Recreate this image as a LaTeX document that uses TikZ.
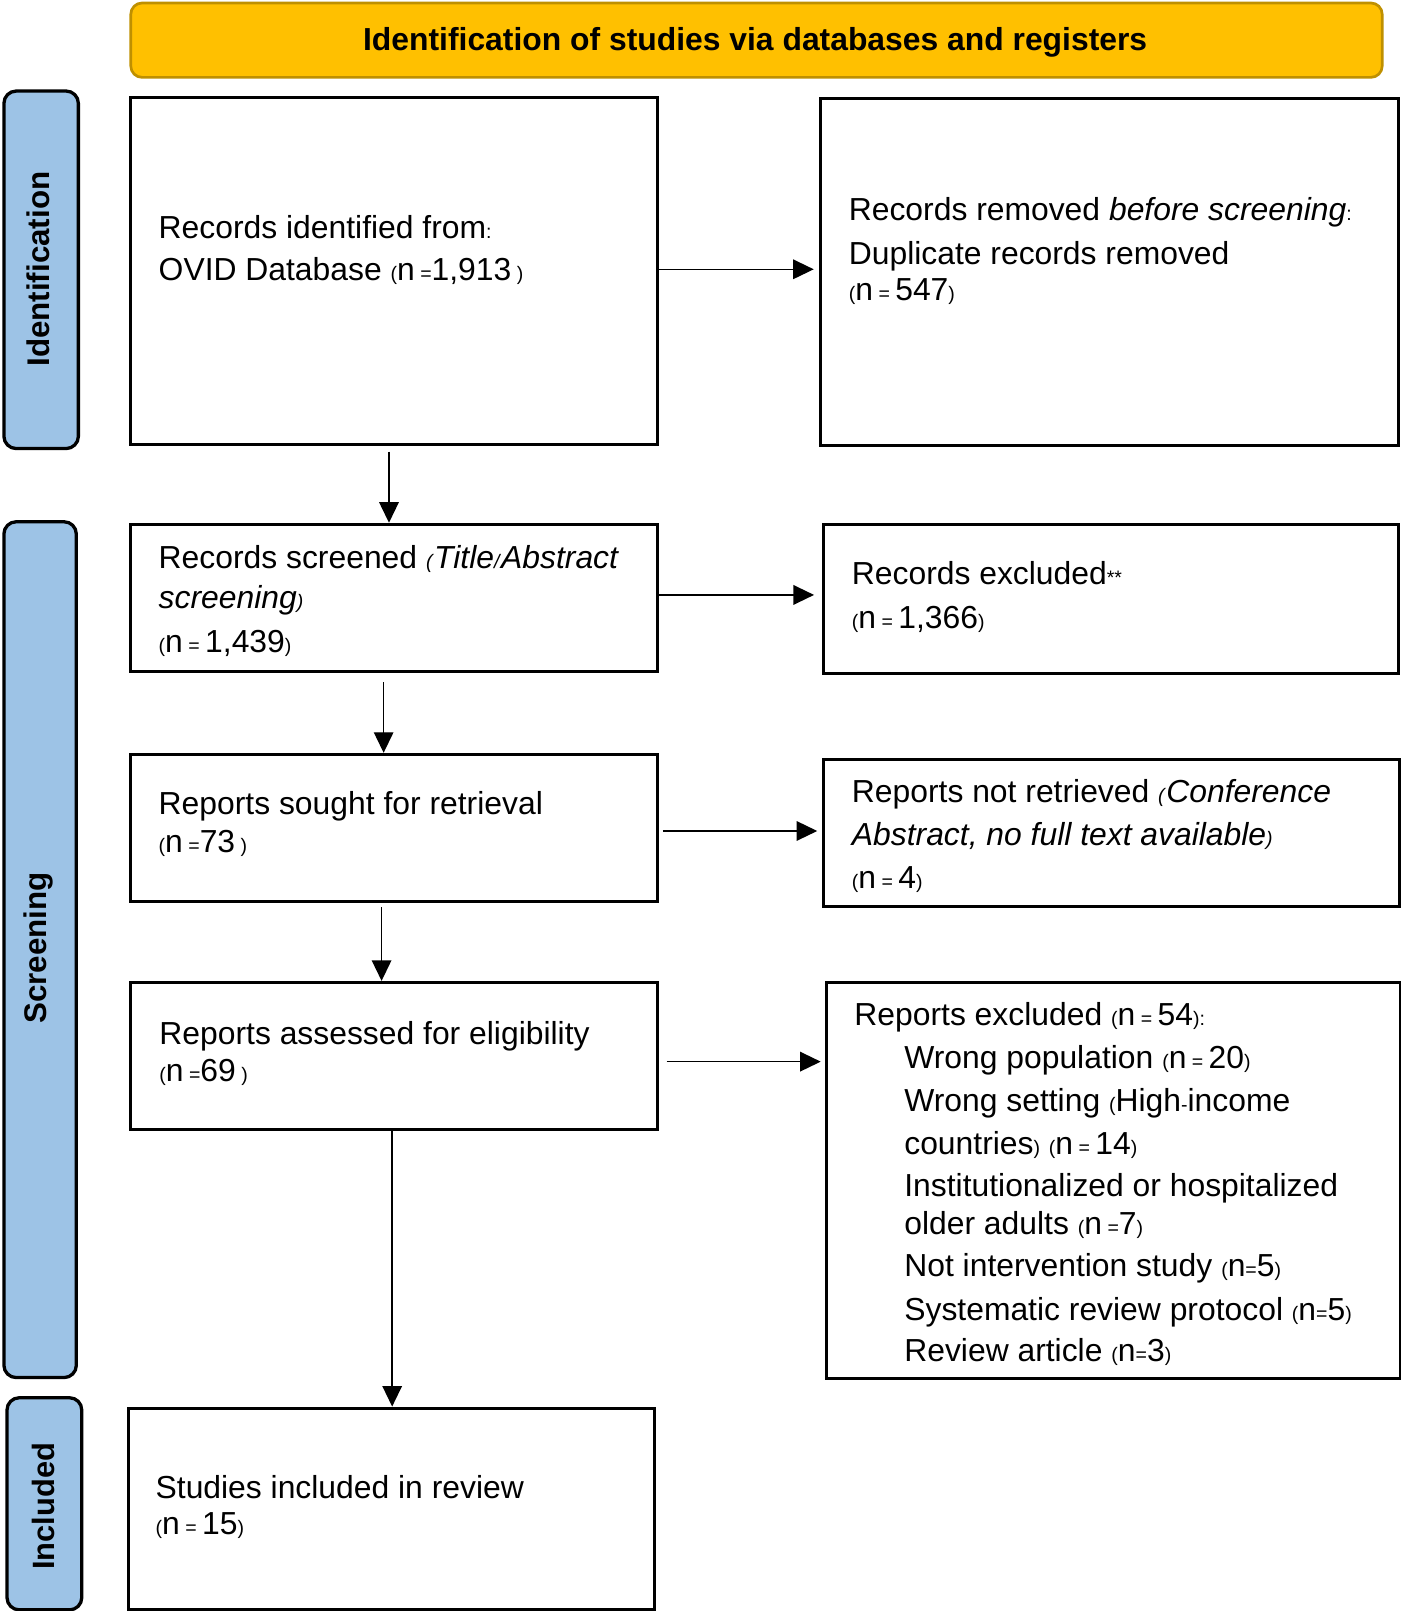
\documentclass[tikz,border=0pt]{standalone}
\usepackage{fontspec}
\setmainfont{Liberation Sans}
\usetikzlibrary{arrows.meta,calc}
\definecolor{hdrfill}{HTML}{FFC000}
\definecolor{hdrdraw}{HTML}{BF9000}
\definecolor{sidefill}{HTML}{9DC3E6}
\newcommand{\sm}[1]{{\fontsize{19}{19}\selectfont #1}}
\newcommand{\mainfs}{\fontsize{31}{37}\selectfont}
\begin{document}
\begin{tikzpicture}[x=1pt,y=-1pt,
  box/.style={draw=black,line width=2.9pt,fill=white,anchor=north west,inner sep=0pt},
  side/.style={draw=black,line width=3.2pt,fill=sidefill,rounded corners=12pt,anchor=north west,inner sep=0pt},
  hdr/.style={draw=hdrdraw,line width=2.6pt,fill=hdrfill,rounded corners=11pt,anchor=north west,inner sep=0pt},
  txt/.style={anchor=base west,inner sep=0pt,font=\mainfs},
  sidetxt/.style={inner sep=0pt,rotate=90,font=\bfseries},
  arr/.style={line width=1.4pt,-{Triangle[length=20pt,width=19pt]}}]
\useasboundingbox (0,0) rectangle (1363,1568);

% header
\node[hdr,minimum width=1218pt,minimum height=72.4pt] (hd) at (126,1.6) {};
\node[anchor=base,inner sep=0pt,font=\fontsize{31}{36}\selectfont\bfseries] (hdt) at (735,48.7) {Identification of studies via databases and registers};

% side labels
\node[side,minimum width=72.5pt,minimum height=348pt] (sid) at (2.2,87) {};
\node[sidetxt,font=\fontsize{30.5}{36}\selectfont\bfseries] (sidt) at (37.5,262) {Identification};
\node[side,minimum width=70.5pt,minimum height=833pt] (scr) at (2.2,506.2) {};
\node[sidetxt,font=\fontsize{30.5}{36}\selectfont\bfseries] (scrt) at (37.5,922.5) {Screening};
\node[side,minimum width=72.8pt,minimum height=206.5pt] (inc) at (5.2,1358.8) {};
\node[sidetxt,font=\fontsize{30}{36}\selectfont\bfseries] (inct) at (42.5,1466) {Included};

% boxes
\node[box,minimum width=512.9pt,minimum height=338.1pt] (b1) at (126,93.5) {};
\node[box,minimum width=561.9pt,minimum height=338.1pt] (b2) at (797.5,94.1) {};
\node[box,minimum width=512.9pt,minimum height=143.2pt] (b3) at (126,508.8) {};
\node[box,minimum width=559.7pt,minimum height=144.5pt] (b4) at (799.7,509.5) {};
\node[box,minimum width=512.9pt,minimum height=143.3pt] (b5) at (126,732.7) {};
\node[box,minimum width=561.3pt,minimum height=143.7pt] (b6) at (799.7,737.3) {};
\node[box,minimum width=512.9pt,minimum height=142.9pt] (b7) at (126,954.7) {};
\node[box,minimum width=558.6pt,minimum height=385.4pt] (b8) at (803,954.6) {};
\node[box,minimum width=512pt,minimum height=196.5pt] (b9) at (123.4,1369) {};

% texts
\node[txt] (t1a) at (154.3,232) {Records identified from\sm{:}};
\node[txt] (t1b) at (154.3,272.6) {OVID Database \sm{(}n\sm{ =}1,913\sm{ )}};

\node[txt] (t2a) at (826,214.8) {Records removed \textit{before screening}\sm{:}};
\node[txt] (t2b) at (826,257) {Duplicate records removed};
\node[txt] (t2c) at (826,292) {\sm{(}n\sm{ = }547\sm{)}};

\node[txt] (t3a) at (154.3,553) {Records screened \sm{\textit{(}}\textit{Title}\sm{\textit{/}}\textit{Abstract}};
\node[txt] (t3b) at (154.3,592) {\textit{screening}\sm{\textit{)}}};
\node[txt] (t3c) at (154.3,635) {\sm{(}n\sm{ = }1,439\sm{)}};

\node[txt] (t4a) at (829,568.5) {Records excluded\sm{**}};
\node[txt] (t4b) at (829,611.7) {\sm{(}n\sm{ = }1,366\sm{)}};

\node[txt] (t5a) at (154.3,793) {Reports sought for retrieval};
\node[txt] (t5b) at (154.3,830) {\sm{(}n\sm{ =}73\sm{ )}};

\node[txt] (t6a) at (829,781.4) {Reports not retrieved \sm{\textit{(}}\textit{Conference}};
\node[txt] (t6b) at (829,822.6) {\textit{Abstract, no full text available}\sm{\textit{)}}};
\node[txt] (t6c) at (829,864.8) {\sm{(}n\sm{ = }4\sm{)}};

\node[txt] (t7a) at (155,1017) {Reports assessed for eligibility};
\node[txt] (t7b) at (155,1052.6) {\sm{(}n\sm{ =}69\sm{ )}};

\node[txt] (t8a) at (831.4,998.4) {Reports excluded \sm{(}n\sm{ = }54\sm{):}};
\node[txt] (t8b) at (880,1040) {Wrong population \sm{(}n\sm{ = }20\sm{)}};
\node[txt] (t8c) at (880,1081.8) {Wrong setting \sm{(}High\sm{-}income};
\node[txt] (t8d) at (880,1123.4) {countries\sm{)} \sm{(}n\sm{ = }14\sm{)}};
\node[txt] (t8e) at (880,1165) {Institutionalized or hospitalized};
\node[txt] (t8f) at (880,1201.7) {older adults \sm{(}n\sm{ =}7\sm{)}};
\node[txt] (t8g) at (880,1242.1) {Not intervention study \sm{(}n\sm{=}5\sm{)}};
\node[txt] (t8h) at (880,1285) {Systematic review protocol \sm{(}n\sm{=}5\sm{)}};
\node[txt] (t8i) at (880,1325.4) {Review article \sm{(}n\sm{=}3\sm{)}};

\node[txt] (t9a) at (151.3,1458.7) {Studies included in review};
\node[txt] (t9b) at (151.3,1494) {\sm{(}n\sm{ = }15\sm{)}};

% horizontal arrows
\draw[arr,shorten >=5.5pt] ([yshift=1.9pt]b1.east) -- ([yshift=1.9pt]b1.east -| b2.west);
\draw[arr,shorten >=7.4pt] ([yshift=2.8pt]b3.east) -- ([yshift=2.8pt]b3.east -| b4.west);
\draw[arr,shorten <=3.4pt,shorten >=4.3pt] ([yshift=-3pt]b5.east) -- ([yshift=-3pt]b5.east -| b6.west);
\draw[arr,shorten <=7pt,shorten >=4.2pt] ([yshift=-5.7pt]b7.east) -- ([yshift=-5.7pt]b7.east -| b8.west);

% vertical arrows
\draw[arr,shorten <=5pt] ([xshift=-5.3pt]b1.south) -- ([xshift=-5.3pt]b1.south |- b3.north);
\draw[arr,shorten <=9pt] ([xshift=-10.5pt]b3.south) -- ([xshift=-10.5pt]b3.south |- b5.north);
\draw[arr,shorten <=4pt] ([xshift=-12.5pt]b5.south) -- ([xshift=-12.5pt]b5.south |- b7.north);
\draw[arr] ([xshift=-2.2pt]b7.south) -- ([xshift=-2.2pt]b7.south |- b9.north);
\end{tikzpicture}
\end{document}
